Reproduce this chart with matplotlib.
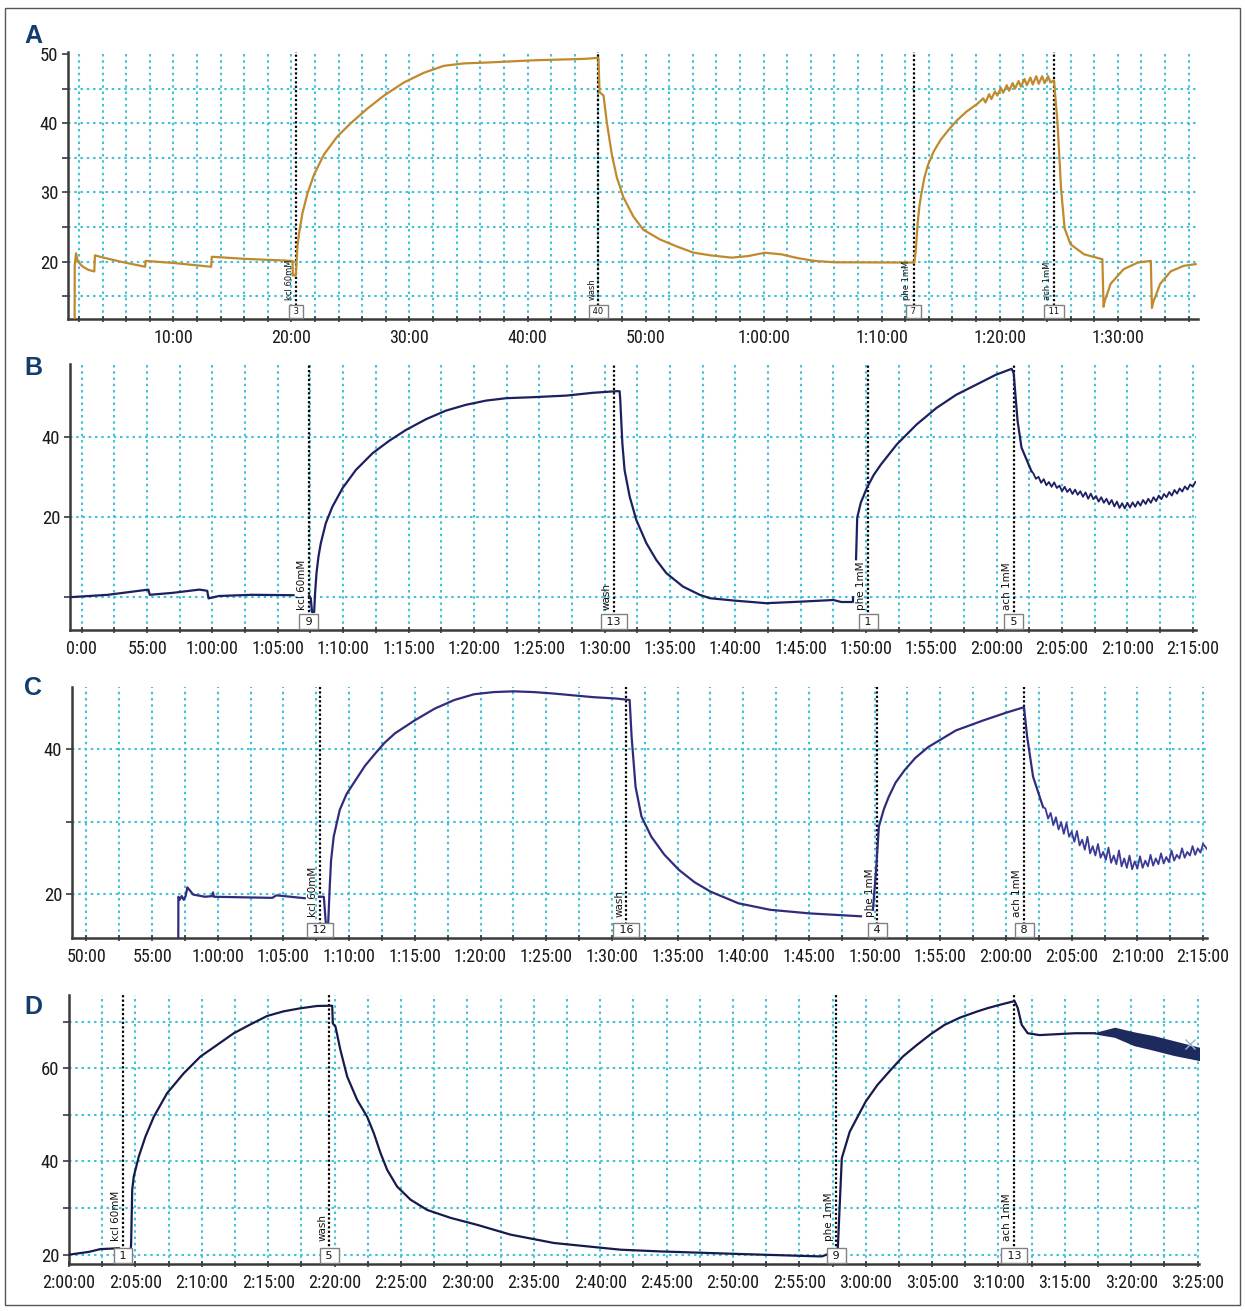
import matplotlib
matplotlib.use('Agg')
import matplotlib.pyplot as plt
import numpy as np
from matplotlib.patches import Rectangle

nan = float('nan')

# ---------------- Panel A (time in minutes) ----------------
A_t = [1.63, 1.64, 1.75, 1.9, 2.3, 2.8, 3.3, 3.35, 4.0, 5.5, 7.6, 7.65, 10.0, 13.2, 13.25, 16.0,
       20.09, 20.12, 20.37, 20.51, 20.65, 20.93, 21.35, 21.92, 22.76, 23.89, 25.02, 26.42, 27.84,
       29.53, 31.22, 32.91, 34.6, 36.86, 40.52, 44.74, 46.01, 46.1, 46.44, 46.71, 47.14, 47.56,
       48.12, 48.97, 49.81, 51.22, 52.63, 54.04, 55.5, 57.3, 58.7, 60.1, 61.5, 62.9, 64.3, 66.0,
       72.78, 72.9, 73.06, 73.2, 73.34, 73.6, 73.9, 74.4, 75.0, 75.7, 76.4, 77.2, 78.1,
       78.6, 78.8, 79.1, 79.3, 79.6, 79.8, 80.1, 80.3, 80.6, 80.8, 81.1, 81.3, 81.6, 81.8,
       82.1, 82.3, 82.6, 82.8, 83.1, 83.3, 83.6, 83.8, 84.1, 84.3, 84.6,
       84.9, 85.2, 85.5, 86.0, 87.15, 88.7, 88.8, 88.9, 89.4, 90.5, 91.7, 92.8, 92.9, 93.0,
       93.6, 94.5, 95.6, 96.6]
A_v = [11.0, 19.5, 21.2, 20.0, 19.3, 18.8, 18.58, 20.9, 20.6, 20.0, 19.25, 20.1, 19.8, 19.25, 20.7, 20.4,
       20.1, 18.0, 18.0, 22.2, 24.1, 27.0, 29.8, 32.6, 35.5, 38.1, 40.0, 42.1, 44.0,
       45.9, 47.3, 48.3, 48.65, 48.8, 49.1, 49.3, 49.45, 44.5, 44.0, 40.2, 35.5, 32.2,
       29.3, 26.5, 24.6, 23.2, 22.2, 21.3, 20.9, 20.57, 20.8, 21.28, 21.05, 20.5, 20.1, 19.9,
       19.86, 21.8, 25.78, 28.0, 29.57, 32.0, 33.84, 35.9, 37.6, 39.1, 40.45, 41.7, 42.8,
       43.6, 43.0, 44.2, 43.5, 44.6, 44.0, 45.1, 44.4, 45.5, 44.7, 45.8, 45.0, 46.1, 45.3,
       46.4, 45.5, 46.6, 45.6, 46.8, 45.7, 46.8, 45.8, 46.8, 45.9, 46.2,
       40.0, 30.5, 24.8, 22.5, 21.05, 20.34, 13.47, 14.3, 16.8, 18.9, 19.86, 20.1, 13.3, 14.1,
       16.8, 18.6, 19.39, 19.63]
A_events_t = [20.4, 46.0, 72.7, 84.6]
A_events_label = ['kcl 60mM', 'wash', 'phe 1mM', 'ach 1mM']
A_events_num = ['3', '40', '7', '11']
A_xtick_pos = [10, 20, 30, 40, 50, 60, 70, 80, 90]
A_xtick_lab = ['10:00', '20:00', '30:00', '40:00', '50:00', '1:00:00', '1:10:00', '1:20:00', '1:30:00']
A_ytick_pos = [20, 30, 40, 50]

# ---------------- Panel B ----------------
B_t = [49.1, 52.0, 55.1, 55.2, 57.0, 59.0, 59.6, 59.7, 60.5, 63.0, 66.2, nan,
       67.4, 67.52, 67.62, 67.78, 67.85, 67.96, 68.11, 68.29, 68.67, 69.18, 69.95, 70.97, 72.25,
       73.52, 74.8, 76.34, 77.87, 79.4, 80.93, 82.47, 84.51, 87.07, 89.1, 90.9, 91.15, 91.2,
       91.36, 91.53, 91.92, 92.43, 93.2, 93.96, 94.73, 96.0, 97.28, 98.05, 99.94, 102.36,
       105.09, 107.51, 108.11, 109.0, 109.02, nan, 109.24, 109.33, 109.6, 110.08, 110.6, 111.15,
       112.36, 113.88, 115.39, 116.9, 118.42, 119.93, 121.15, 121.3, 121.6, 121.9, 122.66]
B_v = [0.0, 0.6, 1.9, 0.6, 1.1, 1.9, 1.6, -0.3, 0.3, 0.6, 0.5, nan,
       0.4, -0.25, -3.7, -3.7, 1.0, 6.0, 10.15, 13.5, 18.5, 22.65, 27.25, 31.8, 36.0,
       39.1, 41.8, 44.5, 46.65, 48.1, 49.15, 49.75, 50.0, 50.4, 51.1, 51.5, 51.5, 49.3,
       38.5, 31.8, 25.15, 19.3, 13.5, 9.3, 6.0, 2.65, 0.6, -0.25, -0.85, -1.5,
       -1.1, -0.7, -1.2, -1.2, 0.0, nan, 9.5, 19.9, 23.6, 27.4, 30.6, 33.2,
       38.2, 43.2, 47.3, 50.6, 53.1, 55.6, 57.1, 56.0, 44.0, 37.4, 31.5]
# noisy relaxation after ach (read as a jagged trace)
B_noise_t = [122.66, 122.8, 123.0, 123.2, 123.4, 123.6, 123.8, 124.0, 124.2, 124.4, 124.6, 124.8,
             125.0, 125.2, 125.4, 125.6, 125.8, 126.0, 126.2, 126.4, 126.6, 126.8, 127.0, 127.2,
             127.4, 127.6, 127.8, 128.0, 128.2, 128.4, 128.6, 128.8, 129.0, 129.2, 129.4, 129.6,
             129.8, 130.0, 130.2, 130.4, 130.6, 130.8, 131.0, 131.2, 131.4, 131.6, 131.8, 132.0,
             132.2, 132.4, 132.6, 132.8, 133.0, 133.2, 133.4, 133.6, 133.8, 134.0, 134.2, 134.4,
             134.6, 134.8, 135.0, 135.2]
B_noise_v = [31.5, 31.0, 29.6, 30.1, 28.6, 29.5, 28.0, 28.8, 27.6, 28.7, 27.3, 27.9,
             26.5, 27.6, 26.3, 27.1, 25.8, 26.9, 25.6, 26.5, 25.1, 26.2, 24.6, 25.9,
             24.5, 25.3, 23.9, 25.0, 23.6, 24.6, 23.2, 24.3, 22.7, 23.9, 22.3, 23.5,
             22.2, 23.6, 22.4, 23.7, 22.6, 23.9, 22.9, 24.3, 23.3, 24.6, 23.6, 25.0,
             24.0, 25.4, 24.5, 25.8, 25.0, 26.3, 25.4, 26.8, 25.9, 27.2, 26.4, 27.7,
             26.9, 28.2, 27.6, 28.8]
B_events_t = [67.36, 90.7, 110.18, 121.3]
B_events_label = ['kcl 60mM', 'wash', 'phe 1mM', 'ach 1mM']
B_events_num = ['9', '13', '1', '5']
B_xtick_pos = list(range(50, 136, 5))
B_xtick_lab = ['0:00', '55:00', '1:00:00', '1:05:00', '1:10:00', '1:15:00', '1:20:00', '1:25:00',
               '1:30:00', '1:35:00', '1:40:00', '1:45:00', '1:50:00', '1:55:00', '2:00:00',
               '2:05:00', '2:10:00', '2:15:00']
B_ytick_pos = [0, 20, 40]

# ---------------- Panel C ----------------
C_t = [56.99, 57.0, 57.1, 57.25, 57.4, 57.55, 57.68, 58.13, 59.03, 59.6, 59.63, 59.7, 64.15, 64.46,
       66.62, nan, 67.7, 68.07, 68.22, 68.4, 68.52, 68.62, 68.82, 69.28, 69.8, 70.48, 71.2, 71.98,
       72.7, 73.49, 75.0, 76.5, 78.0, 79.51, 81.02, 82.52, 84.03, 85.54, 87.04, 88.55, 90.35,
       91.35, 91.5, 91.8, 92.25, 93.0, 94.0, 95.11, 96.3, 97.52, 99.63, 102.04, 105.05, 108.96,
       nan, 109.87, 110.11, 110.32, 110.7, 111.07, 111.6, 112.28, 113.1, 114.08, 116.19, 118.3,
       120.1, 121.37, 121.61, 122.06, 122.82]
C_v = [13.5, 19.6, 19.2, 19.7, 19.2, 19.7, 20.9, 19.9, 19.6, 19.7, 20.2, 19.6, 19.45, 19.8,
       19.4, nan, 19.6, 19.6, 16.0, 15.8, 21.0, 24.6, 27.9, 31.6, 33.8, 35.7, 37.7, 39.4,
       40.9, 42.2, 44.0, 45.6, 46.8, 47.6, 47.9, 48.0, 47.9, 47.7, 47.45, 47.2, 47.0,
       46.8, 41.7, 34.8, 30.7, 27.9, 25.4, 23.3, 21.6, 20.3, 18.7, 17.8, 17.3, 16.9,
       nan, 17.8, 23.3, 29.3, 31.7, 33.4, 35.4, 37.1, 38.8, 40.3, 42.6, 44.0,
       45.1, 45.8, 41.7, 36.2, 32.0]
C_noise_t = [122.82, 123.0, 123.2, 123.4, 123.6, 123.8, 124.0, 124.2, 124.4, 124.6, 124.8, 125.0,
             125.2, 125.4, 125.6, 125.8, 126.0, 126.2, 126.4, 126.6, 126.8, 127.0, 127.2, 127.4,
             127.6, 127.8, 128.0, 128.2, 128.4, 128.6, 128.8, 129.0, 129.2, 129.4, 129.6, 129.8,
             130.0, 130.2, 130.4, 130.6, 130.8, 131.0, 131.2, 131.4, 131.6, 131.8, 132.0, 132.2,
             132.4, 132.6, 132.8, 133.0, 133.2, 133.4, 133.6, 133.8, 134.0, 134.2, 134.4, 134.6,
             134.8, 135.0, 135.3]
C_noise_v = [32.0, 31.8, 30.4, 31.2, 29.5, 30.6, 28.9, 29.9, 28.3, 29.8, 27.9, 28.6,
             27.2, 28.7, 26.7, 27.5, 26.1, 27.9, 25.6, 26.6, 25.3, 26.9, 25.0, 25.8,
             24.7, 26.4, 24.3, 25.3, 24.1, 26.0, 23.8, 24.9, 23.6, 25.3, 23.4, 24.5,
             23.5, 25.2, 23.6, 24.6, 23.8, 25.4, 23.9, 24.9, 24.1, 25.6, 24.2, 25.1,
             24.4, 26.0, 24.6, 25.4, 24.9, 26.3, 25.0, 25.8, 25.3, 26.6, 25.4, 26.3,
             25.7, 26.9, 26.2]
C_events_t = [67.77, 91.1, 110.2, 121.4]
C_events_label = ['kcl 60mM', 'wash', 'phe 1mM', 'ach 1mM']
C_events_num = ['12', '16', '4', '8']
C_xtick_pos = list(range(50, 136, 5))
C_xtick_lab = ['50:00', '55:00', '1:00:00', '1:05:00', '1:10:00', '1:15:00', '1:20:00', '1:25:00',
               '1:30:00', '1:35:00', '1:40:00', '1:45:00', '1:50:00', '1:55:00', '2:00:00',
               '2:05:00', '2:10:00', '2:15:00']
C_ytick_pos = [20, 30, 40]

# ---------------- Panel D ----------------
D_t = [120.0, 121.5, 122.37, 123.18, 123.77, 124.37, 124.62, 124.68, 124.76, 124.88, 125.26,
       125.76, 126.39, 127.39, 128.64, 129.9, 131.16, 132.41, 133.67, 134.92, 136.17, 137.43,
       138.69, 139.82, 139.87, 140.07, 140.44, 140.95, 141.7, 142.45, 142.95, 143.46, 143.96,
       144.71, 145.72, 146.97, 148.73, 150.74, 153.25, 156.53, 159.5, 161.53, 164.5, 170.46,
       176.41, 176.72, 177.3, 177.9, 178.0, 178.2, 178.8, 180.0, 180.88, 181.78, 182.8, 183.86,
       184.9, 185.94, 187.1, 188.33, 189.2, 190.11, 191.21, 191.45, 191.75, 192.2, 193.09,
       195.77, 197.26]
D_v = [20.0, 20.6, 21.2, 21.3, 21.4, 19.8, 19.5, 22.5, 33.9, 36.8, 41.1,
       45.35, 49.6, 54.65, 58.9, 62.5, 65.0, 67.5, 69.4, 71.2, 72.2, 72.85,
       73.35, 73.4, 69.6, 68.9, 63.9, 58.2, 53.2, 49.6, 46.1, 41.8, 38.2,
       34.6, 31.8, 29.6, 27.9, 26.4, 24.3, 22.5, 21.65, 21.07, 20.7, 20.15,
       19.64, 19.64, 20.3, 21.4, 27.9, 40.7, 46.4, 52.85, 56.4, 59.3, 62.5, 65.0,
       67.3, 69.3, 70.85, 72.1, 72.9, 73.6, 74.4, 72.9, 69.3, 67.5, 67.1,
       67.5, 67.5]
D_band_t = [197.26, 198.75, 200.23, 201.7, 203.22, 205.15]
D_band_lo = [67.5, 66.8, 65.0, 64.0, 62.9, 61.8]
D_band_hi = [67.5, 68.6, 67.6, 66.8, 65.7, 64.3]
D_end_mark = (204.4, 65.2)
D_events_t = [124.07, 139.6, 177.8, 191.2]
D_events_label = ['kcl 60mM', 'wash', 'phe 1mM', 'ach 1mM']
D_events_num = ['1', '5', '9', '13']
D_xtick_pos = list(range(120, 206, 5))
D_xtick_lab = ['2:00:00', '2:05:00', '2:10:00', '2:15:00', '2:20:00', '2:25:00', '2:30:00',
               '2:35:00', '2:40:00', '2:45:00', '2:50:00', '2:55:00', '3:00:00', '3:05:00',
               '3:10:00', '3:15:00', '3:20:00', '3:25:00']
D_ytick_pos = [20, 30, 40, 50, 60, 70]

# ---------------- styling ----------------
W, H = 1245, 1311
GRID = '#45c3d6'
SPINE = '#3a3a3a'
TICKFONT = ['Liberation Sans Narrow', 'Roboto Condensed', 'DejaVu Sans Condensed', 'DejaVu Sans']
LETTER = '#123d6e'

fig = plt.figure(figsize=(W / 100, H / 100), dpi=100)
fig.patches.append(Rectangle((5 / W, 1 - 1305 / H), 1235 / W, 1297 / H, transform=fig.transFigure,
                             fill=False, ec='#555555', lw=1.0))


def box(l, t, r, b):
    return [l / W, 1 - b / H, (r - l) / W, (b - t) / H]


def panel(rect, letter, letter_xy, xlim, ylim, xgrid, ygrid, xt_pos, xt_lab, yt_pos, yt_lab,
          ev_t, ev_lab, ev_num, lab_y, fs_ev, fs_num):
    ax = fig.add_axes(rect)
    ax.set_xlim(*xlim)
    ax.set_ylim(*ylim)
    for s in ('top', 'right'):
        ax.spines[s].set_visible(False)
    for s in ('left', 'bottom'):
        ax.spines[s].set_color(SPINE)
        ax.spines[s].set_linewidth(1.8)
    ax.vlines(xgrid, ylim[0], ylim[1], colors=GRID, linestyles=(0, (1.2, 1.8)), lw=1.5, zorder=1)
    ax.hlines(ygrid, xlim[0], xlim[1], colors=GRID, linestyles=(0, (1.2, 1.8)), lw=1.5, zorder=1)
    ax.set_xticks(xt_pos)
    ax.set_xticklabels(xt_lab)
    ax.set_xticks(xgrid, minor=True)
    ax.set_yticks(yt_pos)
    ax.set_yticklabels(yt_lab)
    ax.tick_params(axis='x', which='both', direction='inout', length=5, width=1.2, color=SPINE,
                   pad=5, labelsize=13, labelcolor='#1a1a1a')
    ax.tick_params(axis='y', which='both', direction='out', length=4, width=1.2, color=SPINE,
                   pad=3, labelsize=13.5, labelcolor='#1a1a1a')
    for lab in ax.get_xticklabels() + ax.get_yticklabels():
        lab.set_family(TICKFONT)
    for x, lab, num in zip(ev_t, ev_lab, ev_num):
        ax.axvline(x, color='black', ls=(0, (1.0, 1.0)), lw=1.6, zorder=3)
        ax.annotate(lab, xy=(x, lab_y), xycoords=('data', 'axes fraction'), xytext=(-1.5, 0),
                    textcoords='offset points', rotation=90, ha='right', va='bottom',
                    fontsize=fs_ev, family=['DejaVu Sans'], color='#111111', zorder=5)
        ax.annotate(' ' + num + ' ', xy=(x, 0.012), xycoords=('data', 'axes fraction'),
                    ha='center', va='bottom', fontsize=fs_num, family=['DejaVu Sans'],
                    color='#111111', zorder=6,
                    bbox=dict(boxstyle='square,pad=0.22', fc='white', ec='#808080', lw=1.0))
    fig.text(letter_xy[0] / W, 1 - letter_xy[1] / H, letter, ha='center', va='center',
             fontsize=18, fontweight='bold', color=LETTER, family=['Liberation Sans', 'DejaVu Sans'])
    return ax


def lab_list(pos, shown):
    return [str(p) if p in shown else '' for p in pos]


# Panel A
axA = panel(box(68, 52, 1198, 319), 'A', (33, 36), (1.07, 96.8), (11.7, 50.3),
            np.arange(2, 97, 2), [15, 20, 25, 30, 35, 40, 45], A_xtick_pos, A_xtick_lab,
            [15, 20, 25, 30, 35, 40, 45, 50], lab_list([15, 20, 25, 30, 35, 40, 45, 50], A_ytick_pos),
            A_events_t, A_events_label, A_events_num, 0.07, 6, 6)
axA.plot(A_t, A_v, color='#C08A2C', lw=1.6, zorder=4)

# Panel B
axB = panel(box(70, 364, 1196, 630), 'B', (33, 368), (49.1, 135.25), (-8.2, 58.3),
            np.arange(50, 135.1, 2.5), [0, 20, 40], B_xtick_pos, B_xtick_lab,
            B_ytick_pos, lab_list(B_ytick_pos, [20, 40]),
            B_events_t, B_events_label, B_events_num, 0.075, 7.5, 8)
axB.plot(B_t, B_v, color='#1c2060', lw=1.6, zorder=4)
axB.plot(B_noise_t, B_noise_v, color='#1c2060', lw=1.3, zorder=4)

# Panel C
axC = panel(box(72, 687, 1207, 938), 'C', (33, 688), (48.9, 135.3), (13.9, 48.6),
            np.arange(50, 135.1, 2.5), [20, 30, 40], C_xtick_pos, C_xtick_lab,
            C_ytick_pos, lab_list(C_ytick_pos, [20, 40]),
            C_events_t, C_events_label, C_events_num, 0.085, 7.5, 8)
axC.plot(C_t, C_v, color='#2f2c7c', lw=1.6, zorder=4)
axC.plot(C_noise_t, C_noise_v, color='#3b3a96', lw=1.3, zorder=4)

# Panel D
axD = panel(box(69, 995, 1199, 1264), 'D', (33, 1007), (120, 205.1), (18.0, 75.7),
            np.arange(120, 205.1, 2.5), [20, 30, 40, 50, 60, 70], D_xtick_pos, D_xtick_lab,
            D_ytick_pos, lab_list(D_ytick_pos, [20, 40, 60]),
            D_events_t, D_events_label, D_events_num, 0.085, 7.5, 8)
axD.plot(D_t, D_v, color='#161a4c', lw=1.6, zorder=4)
axD.fill_between(D_band_t, D_band_lo, D_band_hi, color='#1c2a5e', lw=1.2, ec='#1c2a5e', zorder=4)
axD.plot([D_end_mark[0]], [D_end_mark[1]], marker='x', ms=7, mew=1.0, color='#9fb0d4', zorder=5)

fig.savefig('out.png', dpi=100)
